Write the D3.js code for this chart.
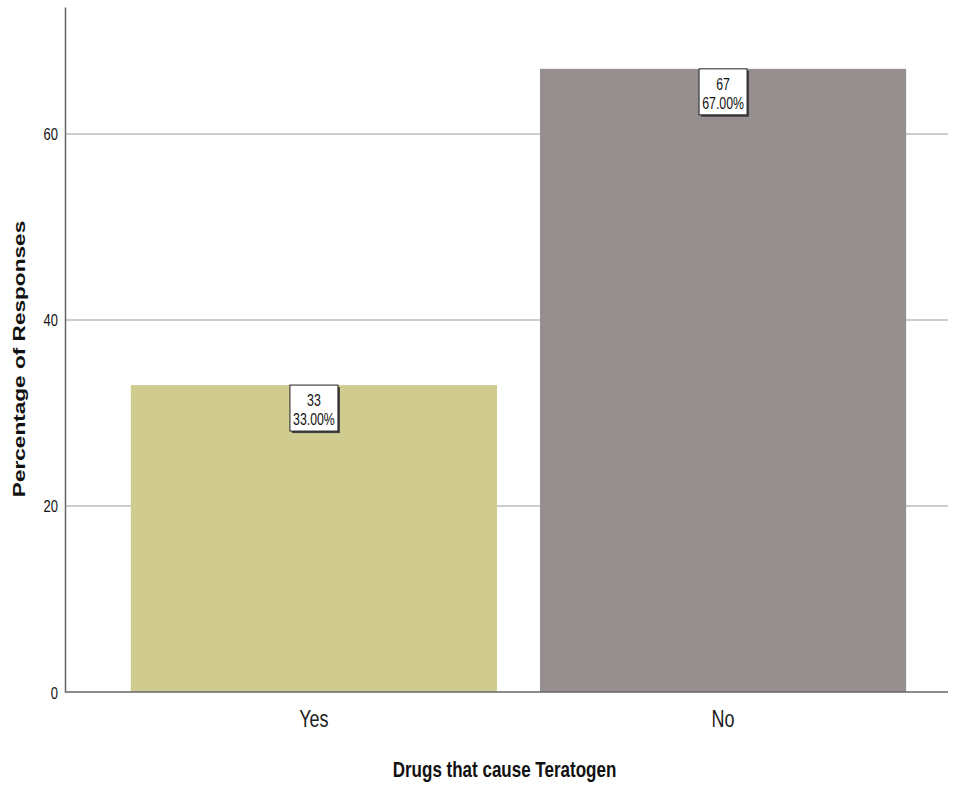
<!DOCTYPE html>
<html><head><meta charset="utf-8">
<script src="https://cdn.jsdelivr.net/npm/d3@7"></script>
<style>body{margin:0;background:#fff}svg{display:block}</style>
</head><body>
<script>
const categories = ["Yes", "No"];
const counts = [33, 67];
const percents = [33.00, 67.00];
const yTicks = [0, 20, 40, 60];
const colors = ["#d0cb8e", "#958f8f"];

const W = 962, H = 788;
const m = {left: 65, right: 14, top: 7, bottom: 96};
const K = 1.33; // vertical stretch of the picture
const font = "'Liberation Sans',Arial,sans-serif";
const svg = d3.select("body").append("svg").attr("width", W).attr("height", H);

const x = d3.scaleBand().domain(categories).range([m.left, 972]).paddingInner(0.105).paddingOuter(0.161);
const y = d3.scaleLinear().domain([0, 73.65]).range([H - m.bottom, m.top]);

function txt(g, px, py, size, anchor, str, weight) {
  return g.append("text")
    .attr("transform", `translate(${px},${py}) scale(1,${K})`)
    .attr("text-anchor", anchor).attr("font-family", font)
    .attr("font-size", size).attr("font-weight", weight || "normal")
    .attr("fill", "#111").text(str);
}

// gridlines
svg.append("g").selectAll("line").data(yTicks.filter(d => d > 0)).join("line")
  .attr("x1", m.left).attr("x2", W - m.right)
  .attr("y1", d => y(d)).attr("y2", d => y(d))
  .attr("stroke", "#bdbdbd").attr("stroke-width", 1.5);

// bars
svg.append("g").selectAll("rect").data(categories).join("rect")
  .attr("x", d => x(d)).attr("width", x.bandwidth())
  .attr("y", (d, i) => y(counts[i])).attr("height", (d, i) => y(0) - y(counts[i]))
  .attr("fill", (d, i) => colors[i]);

// y axis
const ya = svg.append("g").attr("transform", `translate(${m.left},0)`)
  .call(d3.axisLeft(y).tickValues(yTicks).tickSize(0).tickFormat(""));
ya.select(".domain").attr("stroke", "#666").attr("stroke-width", 1.5);
const yl = svg.append("g");
yTicks.forEach(t => txt(yl, m.left - 7, y(t) + 6.5, 13, "end", t));

// x axis
const xa = svg.append("g").attr("transform", `translate(0,${y(0)})`)
  .call(d3.axisBottom(x).tickSize(0).tickFormat(""));
xa.select(".domain").attr("stroke", "#666").attr("stroke-width", 1.5)
  .attr("d", `M${m.left},0H${W - m.right}`);
const xl = svg.append("g");
categories.forEach(c => txt(xl, x(c) + x.bandwidth() / 2, y(0) + 35, 18, "middle", c).attr("fill", "#222"));

// labels
const lab = svg.append("g").selectAll("g").data(categories).join("g")
  .attr("transform", (d, i) => `translate(${x(d) + x.bandwidth() / 2},${y(counts[i])})`);
lab.append("rect").attr("x", -22).attr("y", 2).attr("width", 48).attr("height", 46).attr("fill", "#444");
lab.append("rect").attr("x", -24).attr("y", 0).attr("width", 48).attr("height", 46)
  .attr("fill", "#fff").attr("stroke", "#222").attr("stroke-width", 1);
lab.each(function(d, i) {
  const g = d3.select(this);
  txt(g, 0, 21, 12.3, "middle", counts[i]);
  txt(g, 0, 40, 12.3, "middle", percents[i].toFixed(2) + "%");
});

// axis titles
txt(svg, 504.5, 777, 17, "middle", "Drugs that cause Teratogen", "bold");
svg.append("text").attr("transform", `translate(25,359) rotate(-90) scale(${K},1)`)
  .attr("text-anchor", "middle").attr("font-family", font)
  .attr("font-weight", "bold").attr("font-size", 17).attr("fill", "#111")
  .text("Percentage of Responses");
</script>
</body></html>
